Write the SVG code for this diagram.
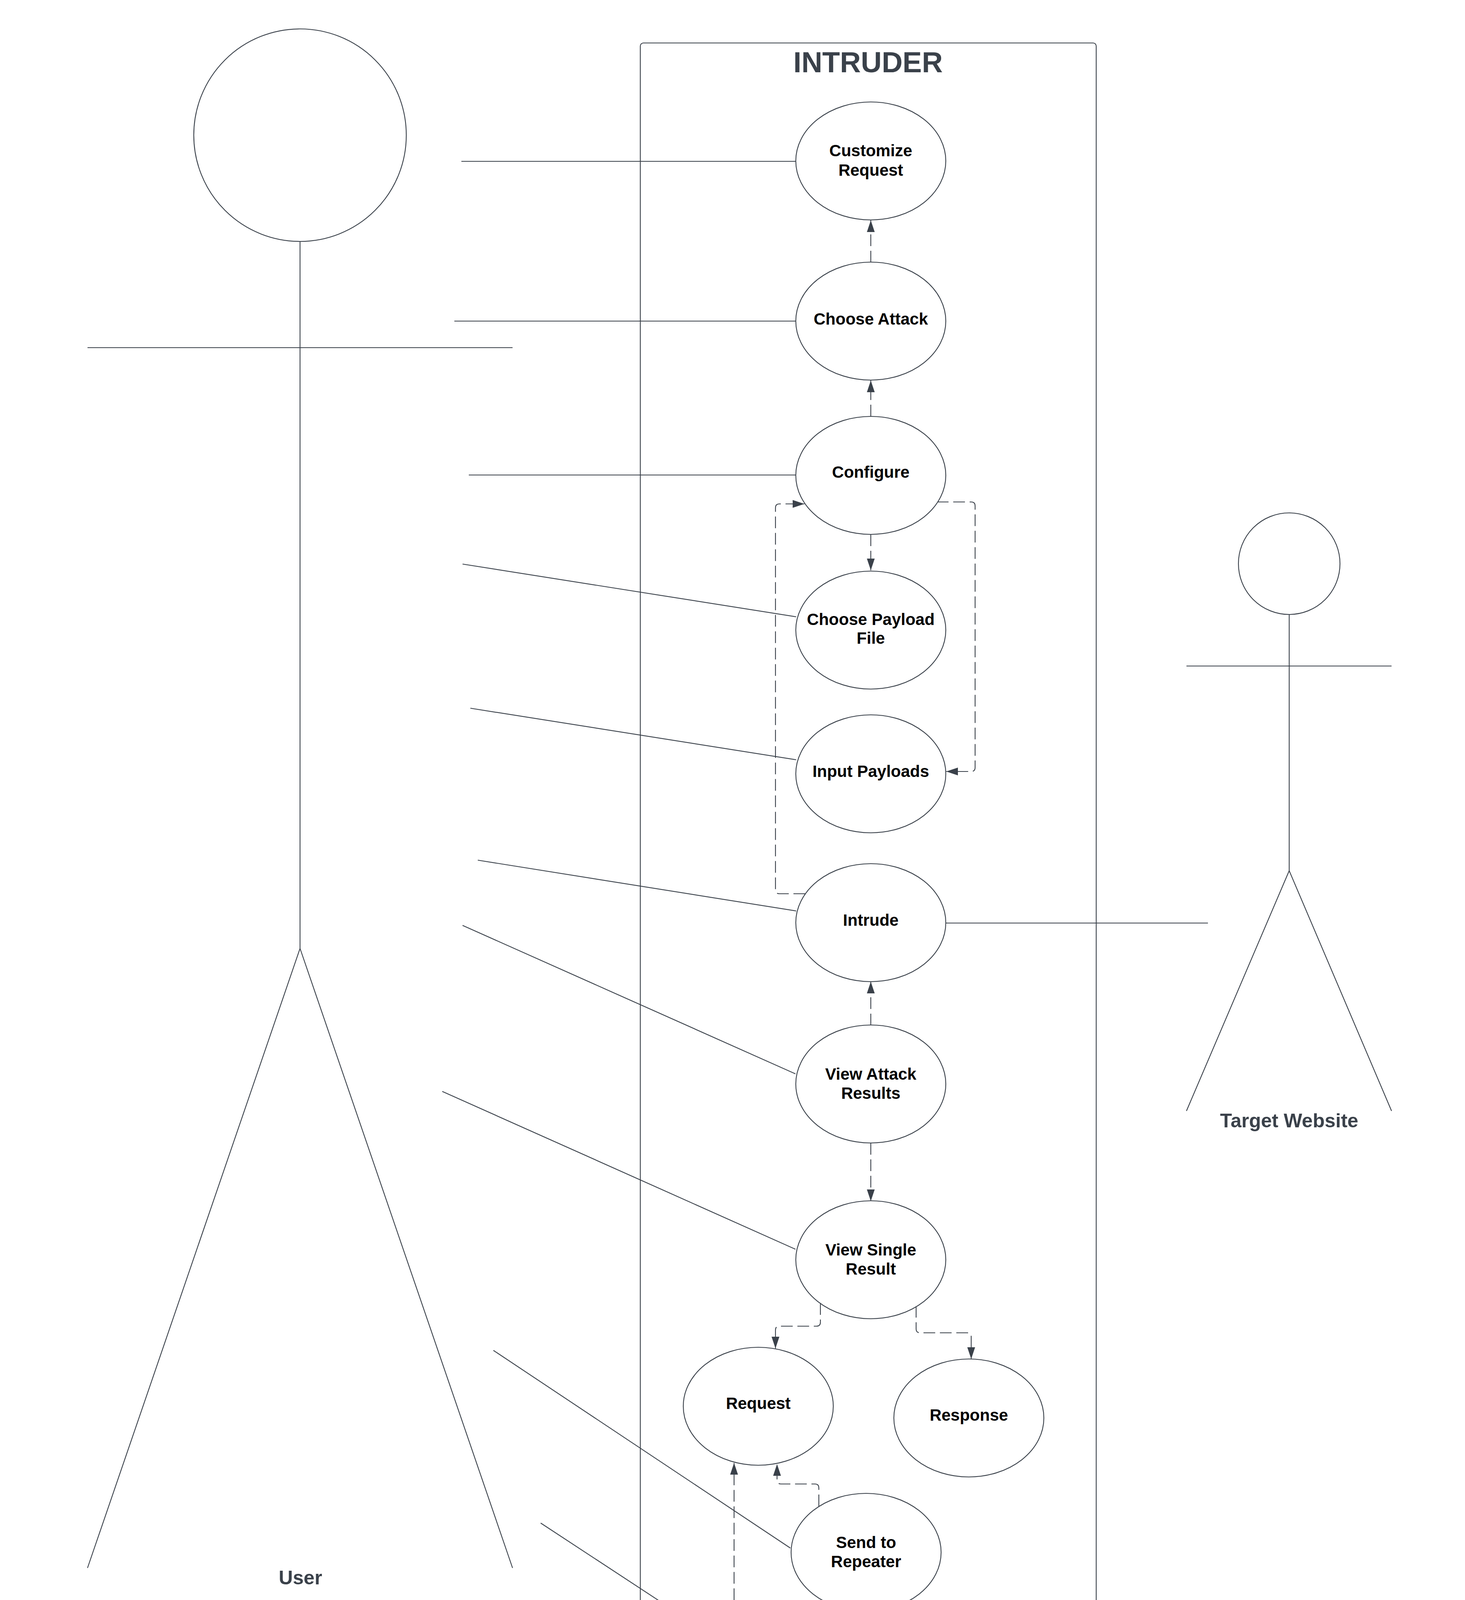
<svg xmlns="http://www.w3.org/2000/svg" width="3750" height="4688" viewBox="0 0 3750 4688">
<style>
.ln{stroke:#3a414a;stroke-width:2.2;fill:none}
.dash{stroke:#3a414a;stroke-width:2.2;fill:none;stroke-dasharray:30 12}
.uc{fill:#ffffff;stroke:#3a414a;stroke-width:2.2}
.t{font-family:"Liberation Sans",Arial,sans-serif;font-weight:bold;font-size:42px;fill:#000000;text-anchor:middle}
.lbl{font-family:"Liberation Sans",Arial,sans-serif;font-weight:bold;font-size:50px;fill:#3a414a;text-anchor:middle}
.title{font-family:"Liberation Sans",Arial,sans-serif;font-weight:bold;font-size:74px;fill:#3a414a;text-anchor:middle}
</style>
<defs>
<marker id="arr" markerUnits="userSpaceOnUse" markerWidth="32" markerHeight="22" refX="30" refY="10" orient="auto">
<path d="M0,0 L30,10 L0,20 z" fill="#3a414a"/>
</marker>
</defs>
<rect width="3750" height="4688" fill="#ffffff"/>

<g id="system-boundary">
<rect x="1639" y="110" width="1167" height="4502" rx="8" ry="8" class="ln"/>
<text x="2222" y="185" class="title">INTRUDER</text>
</g>

<g id="actor-user">
<circle cx="768" cy="346" r="272" class="ln"/>
<line x1="768" y1="618" x2="768" y2="2428" class="ln"/>
<line x1="224" y1="890" x2="1312" y2="890" class="ln"/>
<line x1="768" y1="2428" x2="224" y2="4014" class="ln"/>
<line x1="768" y1="2428" x2="1312" y2="4014" class="ln"/>
<text x="769" y="4056" class="lbl">User</text>
</g>

<g id="actor-target">
<circle cx="3300" cy="1443" r="130" class="ln"/>
<line x1="3300" y1="1573" x2="3300" y2="2229" class="ln"/>
<line x1="3037" y1="1705" x2="3562" y2="1705" class="ln"/>
<line x1="3300" y1="2229" x2="3037" y2="2844" class="ln"/>
<line x1="3300" y1="2229" x2="3562" y2="2844" class="ln"/>
<text x="3300" y="2886" class="lbl">Target Website</text>
</g>

<g id="connectors">
<line x1="1181" y1="413" x2="2037" y2="413" class="ln"/>
<line x1="1163" y1="822" x2="2037" y2="822" class="ln"/>
<line x1="1200" y1="1216" x2="2037" y2="1216" class="ln"/>
<line x1="1184" y1="1444" x2="2038" y2="1579" class="ln"/>
<line x1="1204" y1="1813" x2="2038" y2="1945" class="ln"/>
<line x1="1223" y1="2202" x2="2038" y2="2332" class="ln"/>
<line x1="1184" y1="2369" x2="2036" y2="2749" class="ln"/>
<line x1="1132" y1="2794" x2="2036" y2="3198" class="ln"/>
<line x1="1263" y1="3457" x2="2023" y2="3963" class="ln"/>
<line x1="1384" y1="3899" x2="2039" y2="4329" class="ln"/>
<line x1="2421" y1="2363" x2="3092" y2="2363" class="ln"/>

<line x1="2229" y1="672" x2="2229" y2="564" class="dash" marker-end="url(#arr)"/>
<line x1="2229" y1="1066" x2="2229" y2="974" class="dash" marker-end="url(#arr)"/>
<line x1="2229" y1="1368" x2="2229" y2="1460" class="dash" marker-end="url(#arr)"/>
<path d="M2398,1285 H2486 Q2496,1285 2496,1295 V1965 Q2496,1975 2486,1975 H2422" class="dash" marker-end="url(#arr)"/>
<path d="M2061,2288 H1995 Q1985,2288 1985,2278 V1300 Q1985,1290 1995,1290 H2059" class="dash" marker-end="url(#arr)"/>
<line x1="2229" y1="2625" x2="2229" y2="2513" class="dash" marker-end="url(#arr)"/>
<line x1="2229" y1="2926" x2="2229" y2="3075" class="dash" marker-end="url(#arr)"/>
<path d="M2100,3336 V3385 Q2100,3395 2090,3395 H1995 Q1985,3395 1985,3405 V3452" class="dash" marker-end="url(#arr)"/>
<path d="M2345,3343 V3402 Q2345,3412 2355,3412 H2476 Q2486,3412 2486,3422 V3479" class="dash" marker-end="url(#arr)"/>
<path d="M2096,3856 V3809 Q2096,3799 2086,3799 H1999 Q1989,3799 1989,3789 V3748" class="dash" marker-end="url(#arr)"/>
<path d="M2083,4278 V4152 Q2083,4142 2073,4142 H1889 Q1879,4142 1879,4132 V3745" class="dash" marker-end="url(#arr)"/>
</g>

<g id="uc-customize-request">
<ellipse cx="2229" cy="412" rx="192" ry="151" class="uc"/>
<text x="2229" y="400" class="t">Customize</text>
<text x="2229" y="450" class="t">Request</text>
</g>
<g id="uc-choose-attack">
<ellipse cx="2229" cy="822" rx="192" ry="151" class="uc"/>
<text x="2229" y="831" class="t">Choose Attack</text>
</g>
<g id="uc-configure">
<ellipse cx="2229" cy="1217" rx="192" ry="151" class="uc"/>
<text x="2229" y="1223" class="t">Configure</text>
</g>
<g id="uc-choose-payload-file">
<ellipse cx="2229" cy="1613" rx="192" ry="151" class="uc"/>
<text x="2229" y="1600" class="t">Choose Payload</text>
<text x="2229" y="1648" class="t">File</text>
</g>
<g id="uc-input-payloads">
<ellipse cx="2229" cy="1981" rx="192" ry="151" class="uc"/>
<text x="2229" y="1989" class="t">Input Payloads</text>
</g>
<g id="uc-intrude">
<ellipse cx="2229" cy="2362" rx="192" ry="151" class="uc"/>
<text x="2229" y="2370" class="t">Intrude</text>
</g>
<g id="uc-view-attack-results">
<ellipse cx="2229" cy="2775" rx="192" ry="151" class="uc"/>
<text x="2229" y="2764" class="t">View Attack</text>
<text x="2229" y="2813" class="t">Results</text>
</g>
<g id="uc-view-single-result">
<ellipse cx="2229" cy="3225" rx="192" ry="151" class="uc"/>
<text x="2229" y="3214" class="t">View Single</text>
<text x="2229" y="3263" class="t">Result</text>
</g>
<g id="uc-request">
<ellipse cx="1941" cy="3600" rx="192" ry="151" class="uc"/>
<text x="1941" y="3607" class="t">Request</text>
</g>
<g id="uc-response">
<ellipse cx="2480" cy="3630" rx="192" ry="151" class="uc"/>
<text x="2480" y="3637" class="t">Response</text>
</g>
<g id="uc-send-to-repeater">
<ellipse cx="2217" cy="3974" rx="192" ry="151" class="uc"/>
<text x="2217" y="3963" class="t">Send to</text>
<text x="2217" y="4012" class="t">Repeater</text>
</g>
<g id="uc-sned-to-intruder">
<ellipse cx="2217" cy="4387" rx="192" ry="151" class="uc"/>
<text x="2217" y="4395" class="t">Sned to Intruder</text>
</g>
</svg>
